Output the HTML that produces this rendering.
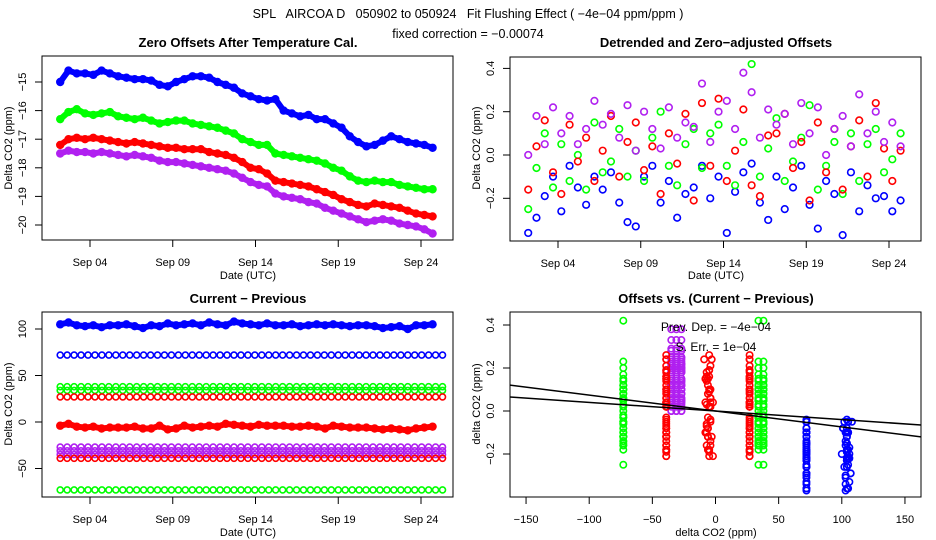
<!DOCTYPE html>
<html><head><meta charset="utf-8">
<style>
html,body{margin:0;padding:0;background:#fff;}
svg{display:block;font-family:"Liberation Sans",sans-serif;}
.pre{white-space:pre;}
</style></head>
<body>
<svg id="chart" width="936" height="540" viewBox="0 0 936 540" xmlns="http://www.w3.org/2000/svg">
<rect width="936" height="540" fill="#fff"/>
<text class="pre" x="468" y="18" text-anchor="middle" font-size="12.5" xml:space="preserve">SPL   AIRCOA D   050902 to 050924   Fit Flushing Effect ( −4e−04 ppm/ppm )</text>
<text x="468" y="38" text-anchor="middle" font-size="12.5">fixed correction = −0.00074</text>
<text x="248" y="47" text-anchor="middle" font-size="13" font-weight="bold">Zero Offsets After Temperature Cal.</text>
<text x="716" y="47" text-anchor="middle" font-size="13" font-weight="bold">Detrended and Zero−adjusted Offsets</text>
<text x="248" y="303" text-anchor="middle" font-size="13" font-weight="bold">Current − Previous</text>
<text x="716" y="303" text-anchor="middle" font-size="13" font-weight="bold">Offsets vs. (Current − Previous)</text>
<defs>
<clipPath id="c1"><rect x="42" y="56" width="411" height="184"/></clipPath>
<clipPath id="c2"><rect x="510" y="57" width="411" height="184"/></clipPath>
<clipPath id="c3"><rect x="42" y="312" width="411" height="185"/></clipPath>
<clipPath id="c4"><rect x="510" y="312" width="411" height="185"/></clipPath>
</defs>
<g id="g1" clip-path="url(#c1)"></g>
<g id="g2" clip-path="url(#c2)"></g>
<g id="g3" clip-path="url(#c3)"></g>
<g id="g4" clip-path="url(#c4)"></g>
<g id="axes"></g>
</svg>
<script>
// ---- data ----
const days = [2.2,2.7,3.2,3.7,4.2,4.7,5.2,5.7,6.2,6.7,7.2,7.7,8.2,8.7,9.2,9.7,10.2,10.7,11.2,11.7,12.2,12.7,13.2,13.7,14.2,14.7,15.2,15.7,16.2,16.7,17.2,17.7,18.2,18.7,19.2,19.7,20.2,20.7,21.2,21.7,22.2,22.7,23.2,23.7,24.2,24.7];
const dateTicks = [4,9,14,19,24];
const dateLabels = ["Sep 04","Sep 09","Sep 14","Sep 19","Sep 24"];
// panel 1: zero offsets
const zeroBlue = [-15.0,-14.6,-14.7,-14.7,-14.75,-14.6,-14.7,-14.8,-14.85,-14.9,-14.9,-14.95,-15.1,-15.15,-15.0,-14.9,-14.8,-14.8,-14.85,-15.0,-15.1,-15.2,-15.4,-15.5,-15.6,-15.65,-15.6,-16.0,-16.1,-16.2,-16.15,-16.3,-16.3,-16.45,-16.6,-16.9,-17.1,-17.25,-17.2,-17.05,-16.9,-17.0,-17.1,-17.15,-17.2,-17.3];
const zeroGreen = [-16.3,-16.05,-15.95,-16.1,-16.15,-16.1,-16.05,-16.2,-16.25,-16.3,-16.25,-16.35,-16.45,-16.4,-16.35,-16.35,-16.45,-16.5,-16.55,-16.6,-16.7,-16.8,-17.0,-17.1,-17.2,-17.2,-17.5,-17.55,-17.6,-17.65,-17.7,-17.75,-17.85,-18.0,-18.1,-18.3,-18.45,-18.5,-18.45,-18.5,-18.5,-18.6,-18.65,-18.7,-18.75,-18.75];
const zeroRed = [-17.2,-17.0,-16.95,-17.0,-16.95,-17.0,-17.05,-17.1,-17.15,-17.1,-17.15,-17.2,-17.25,-17.3,-17.3,-17.35,-17.35,-17.35,-17.45,-17.5,-17.55,-17.65,-17.8,-18.0,-18.05,-18.2,-18.45,-18.5,-18.55,-18.6,-18.65,-18.75,-18.85,-18.95,-19.1,-19.2,-19.3,-19.35,-19.25,-19.3,-19.35,-19.4,-19.5,-19.6,-19.65,-19.7];
const zeroPurple = [-17.5,-17.4,-17.45,-17.45,-17.5,-17.45,-17.5,-17.55,-17.6,-17.55,-17.6,-17.65,-17.75,-17.8,-17.8,-17.85,-17.9,-17.95,-18.0,-18.05,-18.1,-18.2,-18.35,-18.5,-18.6,-18.65,-18.9,-19.0,-19.05,-19.1,-19.2,-19.25,-19.4,-19.5,-19.6,-19.7,-19.8,-19.9,-19.85,-19.8,-19.85,-19.95,-20.0,-20.05,-20.15,-20.3];
const p1Ticks = [-20,-19,-18,-17,-16,-15];
// panel 2: detrended offsets
const detBlue = [-0.36,-0.29,-0.19,-0.10,-0.26,-0.05,-0.15,-0.23,-0.10,-0.16,-0.08,-0.22,-0.31,-0.33,-0.10,-0.05,-0.22,-0.12,-0.29,-0.18,-0.15,-0.05,-0.20,-0.10,-0.36,-0.17,-0.08,-0.04,-0.22,-0.30,-0.10,-0.25,-0.15,-0.05,-0.23,-0.34,-0.12,-0.18,-0.37,-0.08,-0.26,-0.14,-0.20,-0.19,-0.26,-0.21];
const detGreen = [-0.25,-0.06,0.10,-0.15,0.05,-0.12,0.00,-0.16,0.15,-0.08,-0.03,0.12,-0.10,0.02,-0.12,0.08,0.20,-0.05,-0.14,0.05,0.12,-0.06,0.10,0.14,-0.05,-0.14,0.06,0.42,-0.10,0.03,0.17,-0.12,-0.03,0.08,0.23,-0.16,-0.05,0.06,-0.18,0.10,-0.12,0.05,0.12,-0.08,-0.02,0.10];
const detRed = [-0.16,0.04,0.16,-0.08,-0.18,0.14,-0.03,0.08,-0.12,0.02,0.18,-0.10,0.06,0.15,-0.07,0.04,-0.18,0.10,-0.04,0.19,-0.21,0.24,-0.05,0.26,-0.12,0.02,0.21,-0.14,-0.19,0.09,0.10,0.19,-0.06,0.06,-0.21,0.15,-0.08,0.12,-0.16,0.04,0.16,-0.10,0.24,0.03,-0.12,0.02];
const detPurple = [0.00,0.18,0.05,0.22,0.10,0.18,0.05,0.12,0.25,0.14,0.19,0.08,0.23,0.02,0.20,0.12,0.03,0.22,0.08,0.15,0.13,0.33,0.06,0.20,0.25,0.12,0.38,0.29,0.08,0.21,0.14,0.19,0.05,0.24,0.10,0.22,0.00,0.12,0.18,0.04,0.28,0.10,0.20,0.06,0.15,0.04];
const p2Ticks = [-0.2,0.0,0.2,0.4];
const p2Labels = ["−0.2","0.0","0.2","0.4"];
// panel 3: current - previous
const cpBlueTop = [105,107,104,103,104,102,104,104,105,103,101,104,103,106,104,105,106,104,107,105,104,108,106,105,104,106,104,104,105,103,104,105,104,105,104,103,104,104,103,101,102,103,100,104,104,105];
const cpRedMid = [-4,-2,-5,-6,-5,-7,-6,-6,-6,-5,-7,-7,-4,-8,-7,-4,-6,-5,-4,-5,-2,-3,-4,-5,-3,-4,-4,-4,-5,-5,-4,-5,-7,-4,-5,-6,-6,-6,-7,-8,-7,-8,-9,-7,-6,-5];
const cpLevels = [72,38,34,27,-27,-31,-35,-39,-73];
const p3Ticks = [-50,0,50,100];
// panel 4: regression lines
const fitSlopes = [-0.00074,-0.0004];
const fitIntercepts = [0,0];
const p4XTicks = [-150,-100,-50,0,50,100,150];

// ---- scales ----
const xL = d => 90 + (d-4)*16.55;
const xR = d => 558 + (d-4)*16.55;
const y1 = v => 82 + (-15 - v)*28.6;
const y2 = v => 155 - v*216.5;
const y3 = v => 422 - v*0.93;
const x4 = v => 715.5 + v*1.263;
const y4 = v => 411 - v*215;

const NS="http://www.w3.org/2000/svg";
const g1=document.getElementById('g1'),g2=document.getElementById('g2'),g3=document.getElementById('g3'),g4=document.getElementById('g4'),ax=document.getElementById('axes');
const BLUE="#0000ff",GREEN="#00ff00",RED="#ff0000",PURP="#b020f0";

function dot(parent,x,y,col,r,name){
  const c=document.createElementNS(NS,'circle');
  c.setAttribute('cx',x);c.setAttribute('cy',y);c.setAttribute('r',r);
  c.setAttribute('fill','none');c.setAttribute('stroke',col);c.setAttribute('stroke-width',1.6);
  
  
  parent.appendChild(c);
}
function band(parent,xs,ys,col,w,name){
  const p=document.createElementNS(NS,'polyline');
  p.setAttribute('points',xs.map((x,i)=>x+','+ys[i]).join(' '));
  p.setAttribute('fill','none');p.setAttribute('stroke',col);p.setAttribute('stroke-width',w);
  p.setAttribute('stroke-linejoin','round');p.setAttribute('stroke-linecap','round');
  
  
  parent.appendChild(p);
}
function line(x1,yA,x2,yB,name,w){
  const l=document.createElementNS(NS,'line');
  l.setAttribute('x1',x1);l.setAttribute('y1',yA);l.setAttribute('x2',x2);l.setAttribute('y2',yB);
  l.setAttribute('stroke','#000');l.setAttribute('stroke-width',w||1);
  
  
  ax.appendChild(l);
}
function txt(x,y,s,name,rot,size){
  const t=document.createElementNS(NS,'text');
  t.setAttribute('x',x);t.setAttribute('y',y);t.setAttribute('text-anchor','middle');
  t.setAttribute('font-size',size||11);
  if(rot) t.setAttribute('transform','rotate(-90 '+x+' '+y+')');
  t.textContent=s;
  
  
  ax.appendChild(t);
}
function box(x0,y0,x1,y1b,name){
  const r=document.createElementNS(NS,'rect');
  r.setAttribute('x',x0);r.setAttribute('y',y0);r.setAttribute('width',x1-x0);r.setAttribute('height',y1b-y0);
  r.setAttribute('fill','none');r.setAttribute('stroke','#000');r.setAttribute('stroke-width',1);
  
  
  ax.appendChild(r);
}
const minus = v => String(v).replace('-','−');

// ---- panel 1 ----
[[zeroBlue,BLUE,'blue'],[zeroGreen,GREEN,'green'],[zeroRed,RED,'red'],[zeroPurple,PURP,'purple']].forEach(([vals,col,n])=>{
  band(g1,days.map(xL),vals.map(y1),col,6,'zero-offset-band-'+n);
  vals.forEach((v,i)=>dot(g1,xL(days[i]),y1(v),col,3.4,'zero-offset-point-'+n));
});
// ---- panel 2 ----
[[detBlue,BLUE,'blue'],[detGreen,GREEN,'green'],[detRed,RED,'red'],[detPurple,PURP,'purple']].forEach(([vals,col,n])=>{
  vals.forEach((v,i)=>dot(g2,xR(days[i]),y2(v),col,3.3,'detrended-point-'+n));
});
// ---- panel 3 ----
const levelCols=[BLUE,GREEN,GREEN,RED,PURP,PURP,PURP,RED,GREEN];
band(g3,days.map(xL),cpBlueTop.map(y3),BLUE,6,'cp-band-blue-top');
cpBlueTop.forEach((v,i)=>dot(g3,xL(days[i]),y3(v),BLUE,3.4,'cp-point-blue-top'));
band(g3,days.map(xL),cpRedMid.map(y3),RED,6,'cp-band-red-mid');
cpRedMid.forEach((v,i)=>dot(g3,xL(days[i]),y3(v),RED,3.4,'cp-point-red-mid'));
cpLevels.forEach((lv,k)=>{
  const fine=[];for(let i=0;i<days.length*1.2;i++) fine.push(days[0]+i*0.42);
  fine.forEach(d=>dot(g3,xL(d),y3(lv),levelCols[k],3,'cp-level-point'));
});
// ---- panel 4 ----
const groupY=[detBlue,detGreen,detGreen,detRed,detPurple,detPurple,detPurple,detRed,detGreen];
cpLevels.forEach((lv,k)=>groupY[k].forEach(v=>dot(g4,x4(lv),y4(v),levelCols[k],3.2,'scatter-point')));
cpBlueTop.forEach((lv,i)=>dot(g4,x4(lv),y4(detBlue[i]),BLUE,3.2,'scatter-point-blue-top'));
cpRedMid.forEach((lv,i)=>dot(g4,x4(lv),y4(detRed[i]),RED,3.2,'scatter-point-red-mid'));
fitSlopes.forEach((s,k)=>{
  const l=document.createElementNS(NS,'line');
  l.setAttribute('x1',x4(-170));l.setAttribute('y1',y4(fitIntercepts[k]+s*-170));
  l.setAttribute('x2',x4(170));l.setAttribute('y2',y4(fitIntercepts[k]+s*170));
  l.setAttribute('stroke','#000');l.setAttribute('stroke-width',1.5);
  
  
  g4.appendChild(l);
});

// ---- axes ----
box(42,56,453,240,'panel1-frame');box(510,57,921,241,'panel2-frame');
box(42,312,453,497,'panel3-frame');box(510,312,921,497,'panel4-frame');
dateTicks.forEach((d,i)=>{
  line(xL(d),240,xL(d),247,'date-tick');txt(xL(d),266,dateLabels[i],'date-tick-label');
  line(xR(d),241,xR(d),248,'date-tick');txt(xR(d),267,dateLabels[i],'date-tick-label');
  line(xL(d),497,xL(d),504,'date-tick');txt(xL(d),523,dateLabels[i],'date-tick-label');
});
txt(248,279,'Date (UTC)','x-axis-title');txt(716,279,'Date (UTC)','x-axis-title');txt(248,536,'Date (UTC)','x-axis-title');
p1Ticks.forEach(v=>{line(35,y1(v),42,y1(v),'y-tick');txt(26,y1(v),minus(v),'y-tick-label',true);});
p2Ticks.forEach((v,i)=>{line(503,y2(v),510,y2(v),'y-tick');txt(494,y2(v),p2Labels[i],'y-tick-label',true);});
p3Ticks.forEach(v=>{line(35,y3(v),42,y3(v),'y-tick');txt(26,y3(v),minus(v),'y-tick-label',true);});
p2Ticks.forEach((v,i)=>{line(503,y4(v),510,y4(v),'y-tick');txt(494,y4(v),p2Labels[i],'y-tick-label',true);});
p4XTicks.forEach(v=>{line(x4(v),497,x4(v),504,'x-tick');txt(x4(v),523,minus(v),'x-tick-label');});
txt(12,148,'Delta CO2 (ppm)','y-axis-title',true);
txt(480,148,'Delta CO2 (ppm)','y-axis-title',true);
txt(12,404,'Delta CO2 (ppm)','y-axis-title',true);
txt(480,404,'delta CO2 (ppm)','y-axis-title',true);
txt(716,536,'delta CO2 (ppm)','x-axis-title');
txt(716,331,'Prev. Dep. =  −4e−04','prev-dep-annotation',false,12);
txt(716,351,'S. Err. =  1e−04','std-err-annotation',false,12);
</script>
</body></html>
